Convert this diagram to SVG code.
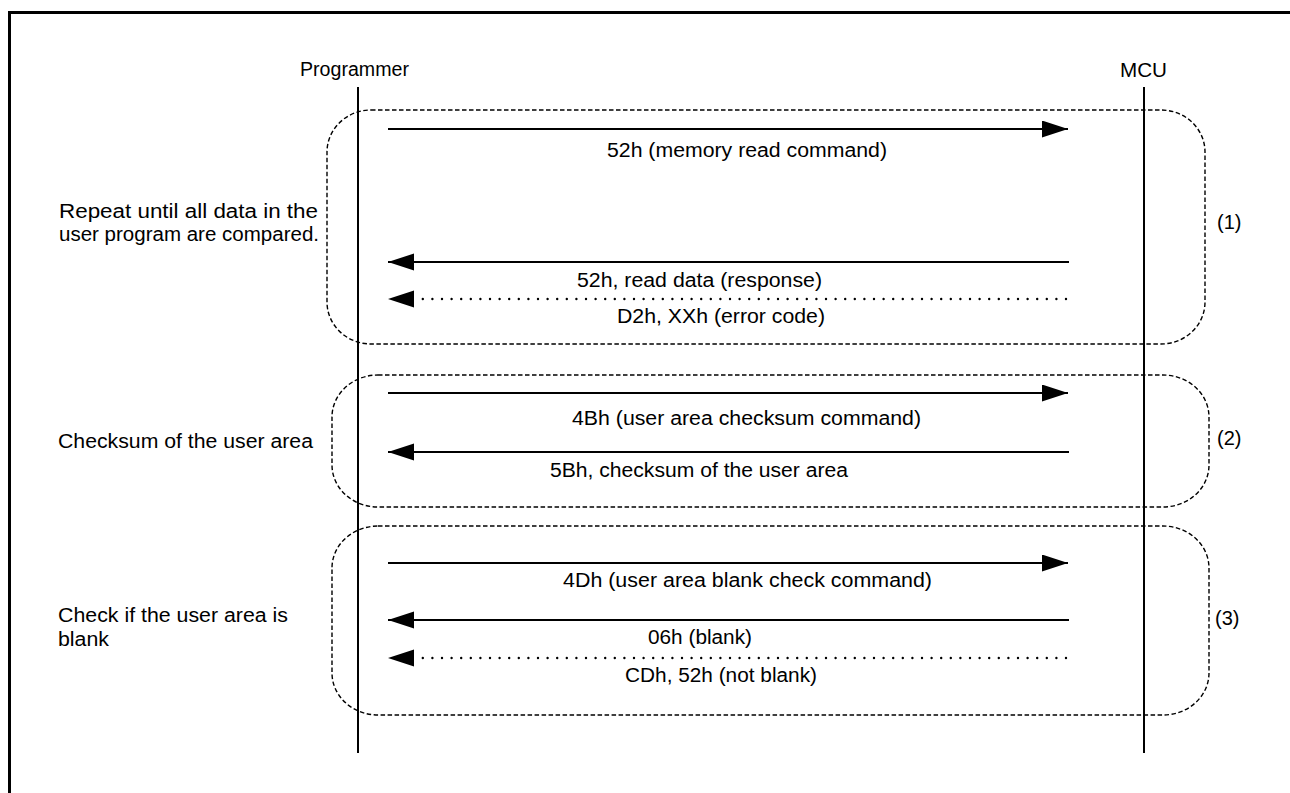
<svg xmlns="http://www.w3.org/2000/svg" width="1290" height="793" viewBox="0 0 1290 793">
<defs>
<style>
text{font-family:"Liberation Sans",Arial,sans-serif;font-size:20px;fill:#000}
.life{stroke:#000;stroke-width:2;fill:none}
.grp{stroke:#000;stroke-width:1.4;fill:none;stroke-dasharray:4.5 2.5}
.msg{stroke:#000;stroke-width:2;fill:none;marker-end:url(#ah)}
.dot{stroke:#000;stroke-width:2.4;fill:none;stroke-linecap:round;stroke-dasharray:0 9.6}
</style>
<marker id="ah" markerUnits="userSpaceOnUse" markerWidth="27" markerHeight="18" refX="26" refY="8.5" orient="auto">
<path d="M0,0 L26,8.5 L0,17 Z" fill="#000"/>
</marker>
</defs>
<rect width="1290" height="793" fill="#fff"/>
<path d="M9.5,793 V12.5 H1290" stroke="#000" stroke-width="3" fill="none"/>

<g id="programmer">
<text x="300" y="76" textLength="109" lengthAdjust="spacingAndGlyphs">Programmer</text>
<line class="life" x1="358" y1="87" x2="358" y2="753"/>
</g>
<g id="mcu">
<text x="1120" y="77" textLength="47" lengthAdjust="spacingAndGlyphs">MCU</text>
<line class="life" x1="1144" y1="87" x2="1144" y2="753"/>
</g>

<g id="group1">
<rect class="grp" x="327" y="110" width="878" height="234" rx="44" ry="42"/>
<text x="59" y="218" textLength="259" lengthAdjust="spacingAndGlyphs">Repeat until all data in the</text>
<text x="59" y="241" textLength="260" lengthAdjust="spacingAndGlyphs">user program are compared.</text>
<text x="1217" y="229">(1)</text>
</g>
<g id="group2">
<rect class="grp" x="332" y="375" width="877" height="132" rx="46" ry="42"/>
<text x="58" y="448" textLength="255" lengthAdjust="spacingAndGlyphs">Checksum of the user area</text>
<text x="1217" y="445">(2)</text>
</g>
<g id="group3">
<rect class="grp" x="332" y="526" width="877" height="189" rx="46" ry="42"/>
<text x="58" y="622" textLength="230" lengthAdjust="spacingAndGlyphs">Check if the user area is</text>
<text x="58" y="646" textLength="51" lengthAdjust="spacingAndGlyphs">blank</text>
<text x="1215" y="625">(3)</text>
</g>

<g id="connectors">
<line class="msg" x1="388" y1="129" x2="1068" y2="129"/>
<text x="607" y="157" textLength="280" lengthAdjust="spacingAndGlyphs">52h (memory read command)</text>
<line class="msg" x1="1069" y1="262" x2="388" y2="262"/>
<text x="577" y="287" textLength="245" lengthAdjust="spacingAndGlyphs">52h, read data (response)</text>
<line class="dot" x1="1066" y1="299" x2="415" y2="299"/>
<path d="M388,299 L414,290.5 L414,307.5 Z" fill="#000"/>
<text x="617" y="323" textLength="208" lengthAdjust="spacingAndGlyphs">D2h, XXh (error code)</text>

<line class="msg" x1="388" y1="393" x2="1068" y2="393"/>
<text x="572" y="425" textLength="349" lengthAdjust="spacingAndGlyphs">4Bh (user area checksum command)</text>
<line class="msg" x1="1069" y1="452" x2="388" y2="452"/>
<text x="550" y="477" textLength="298" lengthAdjust="spacingAndGlyphs">5Bh, checksum of the user area</text>

<line class="msg" x1="388" y1="563" x2="1068" y2="563"/>
<text x="563" y="587" textLength="369" lengthAdjust="spacingAndGlyphs">4Dh (user area blank check command)</text>
<line class="msg" x1="1069" y1="620" x2="388" y2="620"/>
<text x="648" y="644" textLength="104" lengthAdjust="spacingAndGlyphs">06h (blank)</text>
<line class="dot" x1="1066" y1="658" x2="415" y2="658"/>
<path d="M388,658 L414,649.5 L414,666.5 Z" fill="#000"/>
<text x="625" y="682" textLength="192" lengthAdjust="spacingAndGlyphs">CDh, 52h (not blank)</text>
</g>
</svg>
